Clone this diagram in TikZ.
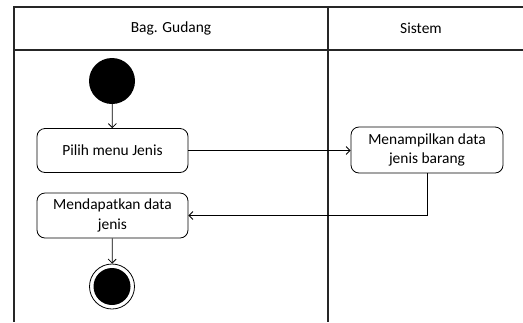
\documentclass[tikz,border=0pt]{standalone}
\usepackage{fontspec}
\setmainfont{Carlito}
\usetikzlibrary{arrows.meta}
\begin{document}
\begin{tikzpicture}[x=1bp,y=-1bp,
  lane/.style={draw=black!85,line width=1.1bp},
  act/.style={draw=black,line width=0.8bp,rounded corners=8bp,minimum width=151bp,minimum height=44bp,align=center,inner sep=0pt,font=\fontsize{15.5}{19.5}\selectfont},
  flow/.style={draw=black,line width=0.8bp,-{Straight Barb[length=4bp,width=8bp,line width=0.8bp]}},
  hdr/.style={font=\fontsize{15.5}{19}\selectfont}]
\useasboundingbox (0,0) rectangle (523,322);
\fill[white] (0,0) rectangle (523,322);
% swimlane frame
\draw[lane] (523,7) -- (14,7) -- (14,322);
\draw[lane] (14,50) -- (523,50);
\draw[lane] (328,7) -- (328,322);
\node[hdr] (h1) at (171,28) {Bag. Gudang};
\node[hdr] (h2) at (421,28) {Sistem};
% nodes
\node[circle,fill=black,minimum size=46bp,inner sep=0pt] (start) at (112,81) {};
\node[act] (pilih) at (112.5,150.5) {Pilih menu Jenis};
\node[act,minimum width=152bp,minimum height=46bp] (tampil) at (427,150) {Menampilkan data\\jenis barang};
\node[act,minimum height=45bp] (dapat) at (112.5,215.5) {Mendapatkan data\\jenis};
\node[circle,draw=black,line width=0.8bp,minimum size=45bp,inner sep=0pt] (endo) at (112,286.5) {};
\node[circle,fill=black,minimum size=37bp,inner sep=0pt] (endi) at (endo.center) {};
% connectors
\draw[flow] (start) -- (pilih);
\draw[flow] (pilih.east) -- (pilih.east -| tampil.west);
\draw[flow] (tampil.south) |- (dapat.east);
\draw[flow] (dapat) -- (endo);
\end{tikzpicture}
\end{document}
